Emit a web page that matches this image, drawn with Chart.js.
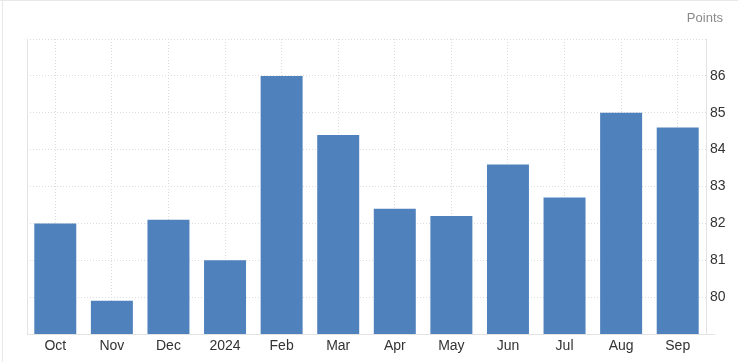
<!DOCTYPE html>
<html>
<head>
<meta charset="utf-8">
<script src="https://cdn.jsdelivr.net/npm/chart.js@4.4.1/dist/chart.umd.min.js"></script>
<style>
  html, body { margin: 0; padding: 0; background: #fff; }
  #wrap { width: 738px; height: 362px; position: relative; }
</style>
</head>
<body>
<div id="wrap"><canvas id="c" width="738" height="362"></canvas></div>
<script>
const categories = ['Oct', 'Nov', 'Dec', '2024', 'Feb', 'Mar', 'Apr', 'May', 'Jun', 'Jul', 'Aug', 'Sep'];
const values = [82.0, 79.9, 82.1, 81.0, 86.0, 84.4, 82.4, 82.2, 83.6, 82.7, 85.0, 84.6];
const yMin = 79;
const yMax = 87;
const unitLabel = 'Points';

const FONT = '"Liberation Sans", Arial, sans-serif';

const framePlugin = {
  id: 'frame',
  beforeDraw(chart) {
    const ctx = chart.ctx;
    ctx.save();
    ctx.fillStyle = '#fff';
    ctx.fillRect(0, 0, chart.width, chart.height);
    ctx.strokeStyle = '#e8e8e8';
    ctx.lineWidth = 1;
    ctx.beginPath();
    ctx.moveTo(0, 0.5); ctx.lineTo(chart.width, 0.5);
    ctx.moveTo(2.5, 0); ctx.lineTo(2.5, chart.height);
    ctx.stroke();
    ctx.restore();
  },
  afterDraw(chart) {
    const ctx = chart.ctx;
    const a = chart.chartArea;
    ctx.save();
    ctx.strokeStyle = '#e3e3e3';
    ctx.lineWidth = 1;
    ctx.beginPath();
    ctx.moveTo(Math.round(a.left) + 0.5, a.top);
    ctx.lineTo(Math.round(a.left) + 0.5, a.bottom);
    ctx.moveTo(a.right, Math.round(a.bottom) + 0.5);
    ctx.lineTo(a.right + 9, Math.round(a.bottom) + 0.5);
    ctx.stroke();
    ctx.fillStyle = '#8a8a8a';
    ctx.font = '13px ' + FONT;
    ctx.textAlign = 'right';
    ctx.textBaseline = 'middle';
    ctx.fillText(unitLabel, 723, 18);
    ctx.restore();
  }
};

new Chart(document.getElementById('c'), {
  type: 'bar',
  data: {
    labels: categories,
    datasets: [{
      data: values,
      backgroundColor: '#4f81bd',
      borderWidth: 0,
      barPercentage: 0.742,
      categoryPercentage: 1.0
    }]
  },
  options: {
    responsive: false,
    devicePixelRatio: 1,
    animation: false,
    events: [],
    layout: { padding: { left: 27, top: 39, right: 0, bottom: 0 } },
    plugins: { legend: { display: false }, tooltip: { enabled: false } },
    scales: {
      x: {
        grid: { offset: false, drawTicks: false, color: '#dcdcdc', lineWidth: 1 },
        border: { display: true, color: '#e3e3e3', dash: [1, 2] },
        ticks: { color: '#333', font: { family: FONT, size: 14 }, padding: 4, maxRotation: 0, autoSkip: false },
        afterFit(scale) { scale.height = 28; }
      },
      y: {
        position: 'right',
        min: yMin,
        max: yMax,
        grid: { drawTicks: false, color: '#dcdcdc', lineWidth: 1 },
        border: { display: true, color: '#e3e3e3', dash: [1, 2] },
        ticks: {
          stepSize: 1,
          padding: 4,
          color: '#333',
          font: { family: FONT, size: 14 },
          callback(v) { return (v === yMin || v === yMax) ? '' : String(v); }
        },
        afterFit(scale) { scale.width = 32; }
      }
    }
  },
  plugins: [framePlugin]
});
</script>
</body>
</html>
